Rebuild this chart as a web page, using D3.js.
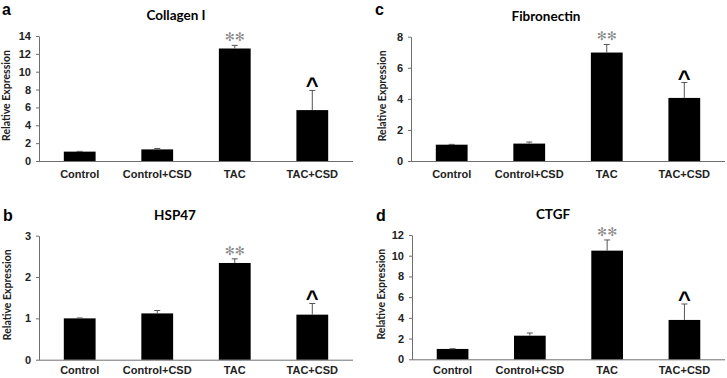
<!DOCTYPE html>
<html>
<head>
<meta charset="utf-8">
<script src="https://cdn.jsdelivr.net/npm/d3@7"></script>
<style>
  body { margin: 0; background: #fff; }
  svg { display: block; font-family: Lato, "Open Sans", sans-serif; }
  .axis path, .axis line { stroke: #6e6e6e; }
  .axis text { font-weight: bold; font-size: 11px; fill: #222; }
</style>
</head>
<body>
<svg id="chart" width="727" height="378"></svg>
<script>
const categories = ["Control", "Control+CSD", "TAC", "TAC+CSD"];

const collagenValues = [1.05, 1.3, 12.6, 5.7];
const collagenErrors = [0.03, 0.1, 0.35, 2.2];
const collagenTicks = [0, 2, 4, 6, 8, 10, 12, 14];

const hspValues = [1.0, 1.12, 2.34, 1.09];
const hspErrors = [0.01, 0.07, 0.1, 0.27];
const hspTicks = [0, 1, 2, 3];

const fibronectinValues = [1.05, 1.12, 6.98, 4.06];
const fibronectinErrors = [0.02, 0.1, 0.52, 0.99];
const fibronectinTicks = [0, 2, 4, 6, 8];

const ctgfValues = [1.0, 2.28, 10.49, 3.8];
const ctgfErrors = [0.02, 0.26, 1.03, 1.54];
const ctgfTicks = [0, 2, 4, 6, 8, 10, 12];

// significance marks per category
const marks = ["", "", "\u273B\u273B", "^"];

const panels = [
  { letter: "a", title: "Collagen I", values: collagenValues, errors: collagenErrors, ticks: collagenTicks,
    x0: 39, x1: 353, top: 36, bottom: 161, titleX: 176, labelX: 2, labelY: 15, yLabelX: 7, pad: 9 },
  { letter: "b", title: "HSP47", values: hspValues, errors: hspErrors, ticks: hspTicks,
    x0: 39, x1: 353, top: 235.7, bottom: 359.7, titleX: 175, labelX: 3, labelY: 221, yLabelX: 8, pad: 7 },
  { letter: "c", title: "Fibronectin", values: fibronectinValues, errors: fibronectinErrors, ticks: fibronectinTicks,
    x0: 411, x1: 725, top: 36.7, bottom: 161, titleX: 546, labelX: 375, labelY: 15, yLabelX: 383, pad: 9 },
  { letter: "d", title: "CTGF", values: ctgfValues, errors: ctgfErrors, ticks: ctgfTicks,
    x0: 412, x1: 725, top: 235, bottom: 359.3, titleX: 553, labelX: 376, labelY: 221, yLabelX: 382, pad: 7 }
];

const svg = d3.select("#chart");

panels.forEach(p => {
  const g = svg.append("g");
  const data = categories.map((c, i) => ({ cat: c, value: p.values[i], err: p.errors[i], mark: marks[i] }));

  const x = d3.scaleBand().domain(categories).range([p.x0, p.x1]).paddingInner(0.59).paddingOuter(0.32);
  const y = d3.scaleLinear().domain([0, d3.max(p.ticks)]).range([p.bottom, p.top]);

  g.append("g")
    .attr("class", "axis axis-y")
    .attr("transform", `translate(${p.x0},0)`)
    .call(d3.axisLeft(y).tickValues(p.ticks).tickFormat(d3.format("d")).tickSize(3).tickPadding(5).tickSizeOuter(0));

  g.append("g")
    .attr("class", "axis axis-x")
    .attr("transform", `translate(0,${p.bottom})`)
    .call(d3.axisBottom(x).tickSize(0).tickPadding(p.pad))
    .call(a => a.select(".domain").attr("d", `M${p.x0},0.5H${p.x1}`));

  g.selectAll("rect.bar")
    .data(data)
    .join("rect")
    .attr("class", "bar")
    .attr("x", d => x(d.cat))
    .attr("width", x.bandwidth())
    .attr("y", d => y(d.value))
    .attr("height", d => y(0) - y(d.value))
    .attr("fill", "#000");

  const cx = d => x(d.cat) + x.bandwidth() / 2;

  g.selectAll("line.err")
    .data(data)
    .join("line")
    .attr("class", "err")
    .attr("x1", cx).attr("x2", cx)
    .attr("y1", d => y(d.value))
    .attr("y2", d => y(d.value + d.err))
    .attr("stroke", "#555");

  g.selectAll("line.cap")
    .data(data)
    .join("line")
    .attr("class", "cap")
    .attr("x1", d => cx(d) - 3).attr("x2", d => cx(d) + 3)
    .attr("y1", d => y(d.value + d.err))
    .attr("y2", d => y(d.value + d.err))
    .attr("stroke", "#555");

  g.selectAll("text.mark")
    .data(data.filter(d => d.mark))
    .join("text")
    .attr("class", "mark")
    .attr("text-anchor", "middle")
    .attr("x", cx)
    .attr("y", d => d.mark === "^" ? y(d.value + d.err) + 3 : y(d.value + d.err) - 4)
    .style("font-family", d => d.mark === "^" ? "'Liberation Sans', Arial, sans-serif" : "'DejaVu Sans', sans-serif")
    .style("font-weight", d => d.mark === "^" ? "bold" : "normal")
    .style("font-size", d => d.mark === "^" ? "22px" : "12px")
    .attr("fill", d => d.mark === "^" ? "#000" : "#8a8a8a")
    .text(d => d.mark);

  g.append("text")
    .attr("x", p.titleX)
    .attr("y", p.top - 16)
    .attr("text-anchor", "middle")
    .style("font-weight", "bold")
    .style("font-size", "13.5px")
    .text(p.title);

  g.append("text")
    .attr("x", p.labelX)
    .attr("y", p.labelY)
    .style("font-weight", "bold")
    .style("font-size", "16px")
    .style("font-family", "'Liberation Sans', Arial, sans-serif")
    .text(p.letter);

  g.append("text")
    .attr("transform", `translate(${p.yLabelX + 3},${(p.top + p.bottom) / 2 - 3}) rotate(-90)`)
    .attr("text-anchor", "middle")
    .style("font-weight", "bold")
    .style("font-size", "10.5px")
    .attr("fill", "#222")
    .text("Relative Expression");
});
</script>
</body>
</html>
